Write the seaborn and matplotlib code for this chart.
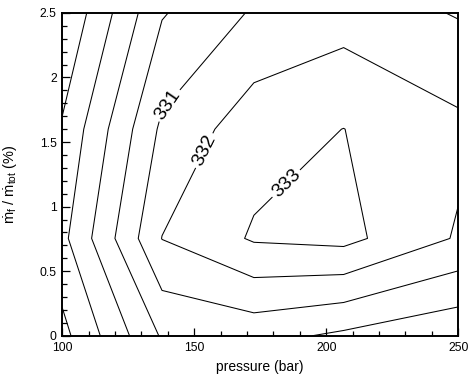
import matplotlib
matplotlib.use("Agg")
import matplotlib.pyplot as plt
import seaborn as sns
import numpy as np
from matplotlib.ticker import MultipleLocator, FormatStrFormatter

pressure = [100, 137.8, 172.6, 206.6, 250]
flow_ratio = [0, 0.754, 1.6, 2.5]

# temperature at each node, one list per flow ratio row
temp_row0 = [326.70, 330.11, 330.35, 329.81, 329.20]
temp_row1 = [327.74, 332.02, 333.11, 333.29, 331.90]
temp_row2 = [327.12, 331.20, 332.59, 333.01, 332.24]
temp_row3 = [326.05, 329.92, 331.11, 331.57, 330.93]

plain_levels = [327, 328, 329, 330]
labelled = [331, 332, 333]
label_pos = [(138.1, 1.82), (152.2, 1.45), (183.6, 1.205)]

sns.set_theme(style="white")
plt.rcParams["font.family"] = ["Liberation Sans", "DejaVu Sans"]
plt.rcParams["mathtext.fontset"] = "custom"
plt.rcParams["mathtext.rm"] = "Liberation Sans"
plt.rcParams["mathtext.it"] = "Liberation Sans"

temps = np.array([temp_row0, temp_row1, temp_row2, temp_row3])

fig = plt.figure(figsize=(4.68, 3.79), dpi=100)
ax = fig.add_axes([0.133, 0.114, 0.846, 0.852])

ax.contour(pressure, flow_ratio, temps, levels=plain_levels,
           colors="black", linewidths=0.75)
cs = ax.contour(pressure, flow_ratio, temps, levels=labelled,
                colors="black", linewidths=0.75)
ax.clabel(cs, manual=label_pos, fmt="%d",
          fontsize=14, inline=True, inline_spacing=3)

ax.set_xlim(100, 250)
ax.set_ylim(0, 2.5)
ax.xaxis.set_major_locator(MultipleLocator(50))
ax.xaxis.set_minor_locator(MultipleLocator(10))
ax.yaxis.set_major_locator(MultipleLocator(0.5))
ax.yaxis.set_minor_locator(MultipleLocator(0.1))
ax.yaxis.set_major_formatter(FormatStrFormatter("%g"))
ax.tick_params(which="both", direction="in", top=False, right=False,
               bottom=True, left=True, color="black", width=0.9,
               labelsize=8.8, labelcolor="black")
ax.tick_params(which="major", length=6)
ax.tick_params(which="minor", length=3.5)
ax.tick_params(axis="x", which="major", pad=4.5)
ax.tick_params(axis="y", which="major", pad=4)

for s in ax.spines.values():
    s.set_color("black")
    s.set_linewidth(1.4)

ax.set_xlabel("pressure (bar)", fontsize=10, color="black", labelpad=4)
ax.set_ylabel(r"$\dot{\mathrm{m}}_{\mathrm{f}}$ / $\dot{\mathrm{m}}_{\mathrm{tot}}$ (%)",
              fontsize=10.5, color="black")
ax.yaxis.set_label_coords(-0.108, 0.47)

fig.savefig("out.png", dpi=100)
